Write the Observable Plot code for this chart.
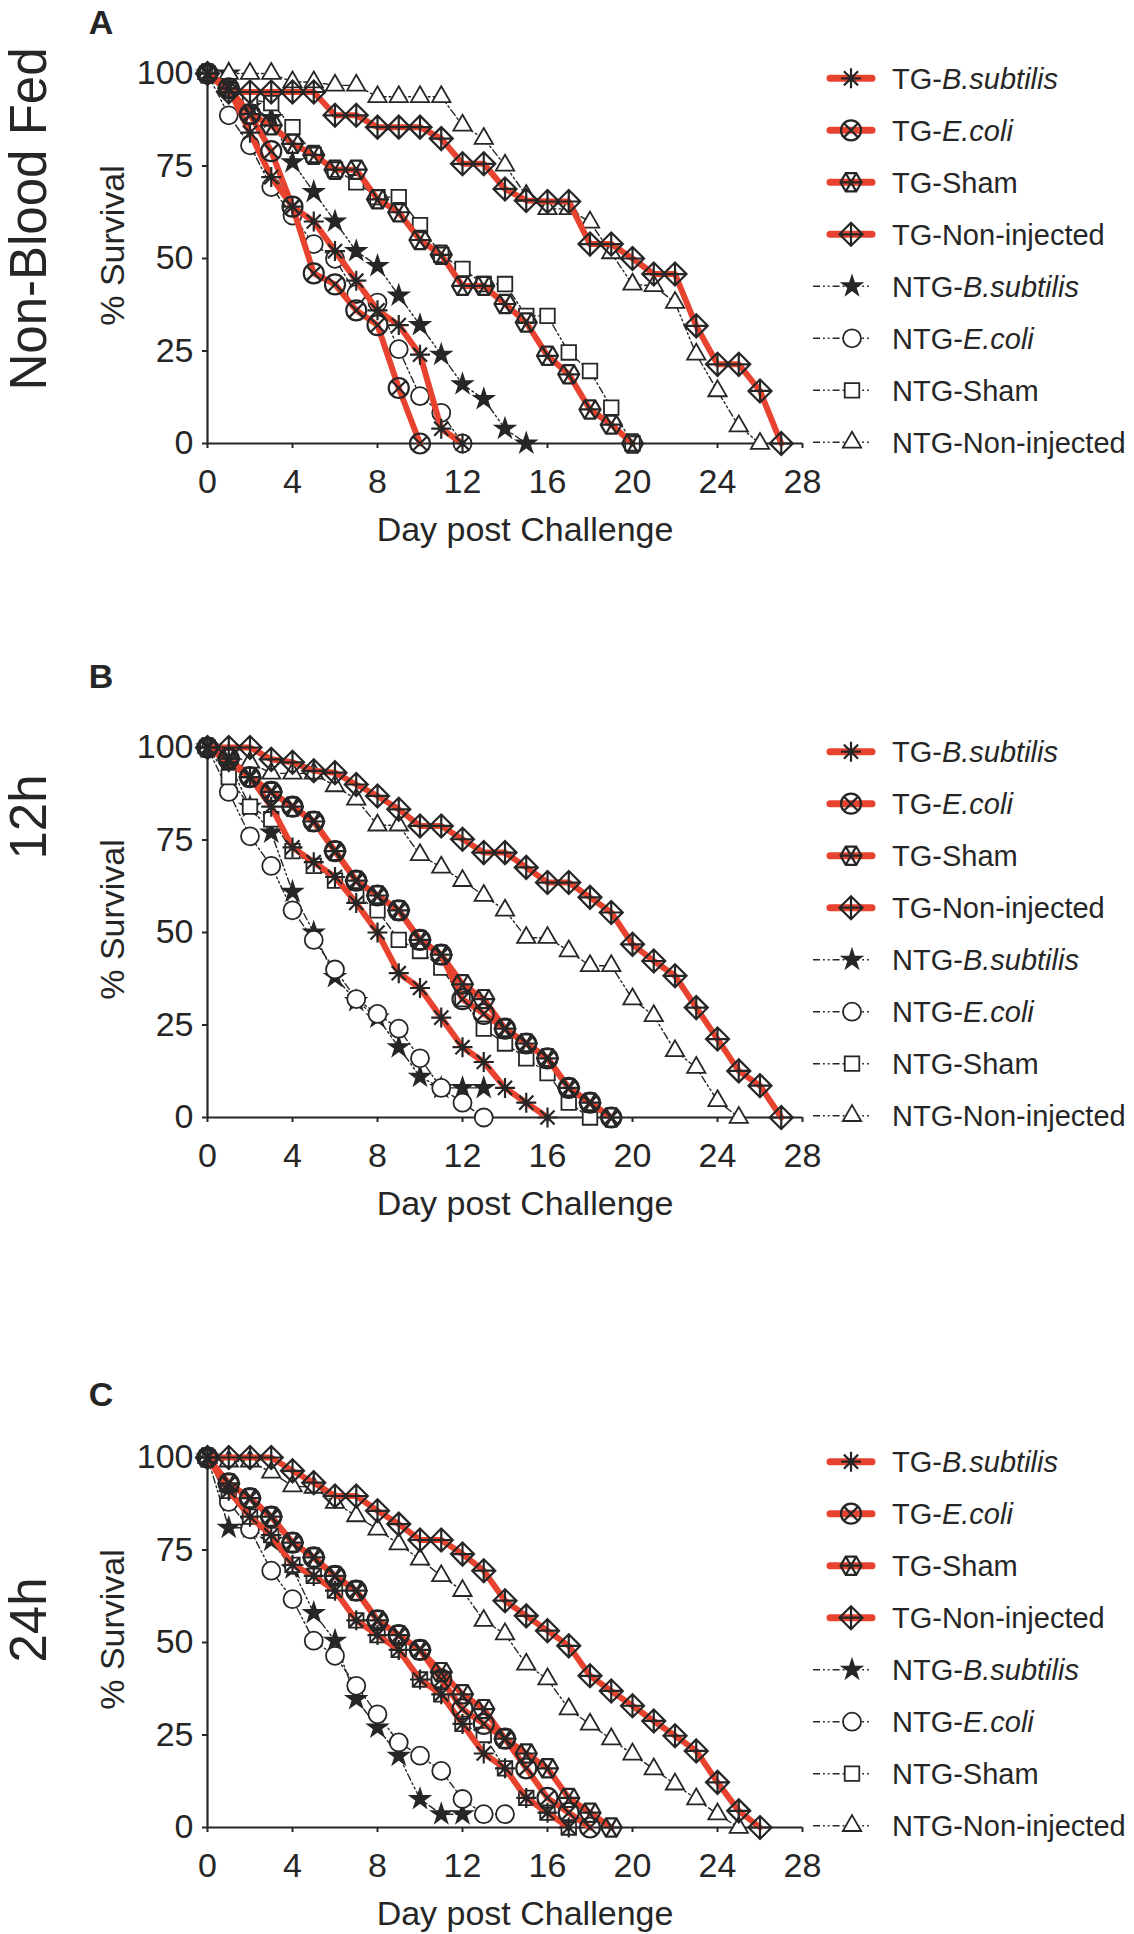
<!DOCTYPE html>
<html><head><meta charset="utf-8">
<script src="https://cdn.jsdelivr.net/npm/d3@7"></script>
<script src="https://cdn.jsdelivr.net/npm/@observablehq/plot@0.6"></script>
<style>
body{margin:0;background:#fff;}
#fig{position:relative;width:1134px;height:1934px;background:#fff;font-family:"Liberation Sans",Arial,sans-serif;}
.panel{position:absolute;left:0;}
#overlay{position:absolute;left:0;top:0;pointer-events:none;}
</style></head><body><div id="fig"></div>
<script>
// ---------- data (% survival, index = day post challenge) ----------
const tickDays = [0, 4, 8, 12, 16, 20, 24, 28];
const tickPct = [0, 25, 50, 75, 100];
const seriesLabelPrefix = ["TG-", "TG-", "TG-Sham", "TG-Non-injected", "NTG-", "NTG-", "NTG-Sham", "NTG-Non-injected"];
const seriesLabelItalic = ["B.subtilis", "E.coli", "", "", "B.subtilis", "E.coli", "", ""];
const panelLetters = ["A", "B", "C"];
const panelSideLabels = ["Non-Blood Fed", "12h", "24h"];

// Panel A: Non-Blood Fed
const A_TG_Bsub   = [100,96,84,72,64,60,52,44,36,32,24,4,0];
const A_TG_Ecoli  = [100,96,89,79,64,46,43,36,32,15,0];
const A_TG_Sham   = [100,96,89,86,81,78,74,74,66,62.5,55,51,42.6,42.6,37.7,32.7,23.7,18.7,9.2,5.1,0];
const A_TG_NonInj = [100,95,95,95,95,95,88.7,88.7,85.5,85.5,85.5,82.4,75.6,75.6,68.8,65.7,65.4,65.4,53.9,53.9,50,45.8,45.8,31.8,21.4,21.4,14.2,0];
const A_NTG_Bsub   = [100,100,91,88,76,68,60,52,48,40,32,24,16,12,4,0];
const A_NTG_Ecoli  = [100,88.7,80.6,69.3,61.6,53.9,49.9,40.4,38.1,25.5,12.8,8.3,0];
const A_NTG_Sham   = [100,96,93,92,85.5,78,74,70.6,66.6,66.6,59,51,47.2,43.1,43.1,34.5,34.5,24.6,19.6,9.7,0];
const A_NTG_NonInj = [100,100,100,100,97.7,97.7,96.8,96.8,93.7,93.7,93.7,93.7,86,82.4,75.2,67,63.4,63.4,59.8,51.5,43,42.6,38.1,24.1,14.2,4.7,0];

// Panel B: 12h
const B_TG_Bsub   = [100,96,92,84,73,69,65,58,50,39,35,27,19,15,8,4,0];
const B_TG_Ecoli  = [100,97,92,88,84,80,72,64,60,56,48,44,32,28,24,20,16,8,4,0];
const B_TG_Sham   = [100,97,92,88,84,80,72,64,60,56,48,44,36,32,24,20,16,8,4,0];
const B_TG_NonInj = [100,100,100,96.8,96,93.7,93.2,90,86.9,83.3,78.8,78.8,75.2,71.6,71.6,67.6,63.5,63.5,59.5,55.4,46.8,42.3,38.3,29.7,21.2,12.6,8.6,0];
const B_NTG_Bsub   = [100,96,84,77,61,50,38,31.5,27,19,11,8,8,8];
const B_NTG_Ecoli  = [100,88,76,68,56,48,40,32,28,24,16,8,4,0];
const B_NTG_Sham   = [100,92,84,80.6,72,68,64,60,56,48,45,40.5,32,24,20,16,12,4,0];
const B_NTG_NonInj = [100,98,96,93,93,93,89.6,86,79,79,71,67.6,64,60,56,48.6,48.6,45,41,41,32,27.5,18,13.5,4.5,0];

// Panel C: 24h
const C_TG_Bsub   = [100,91,84,79,71,68,64,56,52,48,40,36,28,20,16,8,4,0];
const C_TG_Ecoli  = [100,93,89,84,77,73,68,64,56,52,48,40,32,28,24,16,8,4,0];
const C_TG_Sham   = [100,93,89,84,77,73,68,64,56,52,48,42,36,32,24,20,16,8,4,0];
const C_TG_NonInj = [100,100,100,100,96.4,93.2,89.6,89.6,85.6,82,77.7,77.7,73.9,69.4,61.3,57.2,53.2,49.1,41,36.9,32.9,28.8,24.8,20.7,12.2,4.5,0];
const C_NTG_Bsub   = [100,81,81,77.5,70,58,50.5,34.7,27,19.4,7.7,3.6,3.6];
const C_NTG_Ecoli  = [100,88,80.6,69.4,61.7,50.5,46.4,38.3,30.6,23,19.4,15.3,7.7,3.6,3.6];
const C_NTG_Sham   = [100,91,84,79,71,68,64,56,52,48,40,36,28,25,16,8,4,0];
const C_NTG_NonInj = [100,99,99,96,92.3,91.9,87.8,84.2,80.6,76.6,72.5,68,64,55.9,52.3,44.1,40.1,32,27.9,23.9,19.8,15.8,11.7,7.7,3.6,0];

const panelSeries = [
  [A_TG_Bsub, A_TG_Ecoli, A_TG_Sham, A_TG_NonInj, A_NTG_Bsub, A_NTG_Ecoli, A_NTG_Sham, A_NTG_NonInj],
  [B_TG_Bsub, B_TG_Ecoli, B_TG_Sham, B_TG_NonInj, B_NTG_Bsub, B_NTG_Ecoli, B_NTG_Sham, B_NTG_NonInj],
  [C_TG_Bsub, C_TG_Ecoli, C_TG_Sham, C_TG_NonInj, C_NTG_Bsub, C_NTG_Ecoli, C_NTG_Sham, C_NTG_NonInj]
];

// ---------- layout / style ----------
const FONT = '"Liberation Sans", Arial, sans-serif';
const RED = "#e8432f";
const INK = "#262626";
const DASH = "7,3,1.8,3,1.8,3";
const plotTops = [73.3, 746.7, 1456.7];
const letterY = [22, 676, 1394];
const sideY = [219, 817, 1620];
const PLOT_H = 370, MT = 20, MB = 120, ML = 207, W = 810;

const rOf = size => Math.sqrt(size / Math.PI);
const symAsterisk8 = {draw(ctx, size) {
  const r = rOf(size);
  for (let k = 0; k < 4; k++) { const a = k * Math.PI / 4, c = Math.cos(a) * r, s = Math.sin(a) * r; ctx.moveTo(-c, -s); ctx.lineTo(c, s); }
}};
const symCircleX = {draw(ctx, size) {
  const r = rOf(size), d = r * Math.SQRT1_2;
  ctx.moveTo(r, 0); ctx.arc(0, 0, r, 0, 2 * Math.PI); ctx.closePath();
  ctx.moveTo(-d, -d); ctx.lineTo(d, d); ctx.moveTo(-d, d); ctx.lineTo(d, -d);
}};
const symHexStar = {draw(ctx, size) {
  const r = rOf(size);
  const p = d3.range(6).map(i => [r * Math.cos(i * Math.PI / 3), r * Math.sin(i * Math.PI / 3)]);
  ctx.moveTo(p[0][0], p[0][1]); for (let i = 1; i < 6; i++) ctx.lineTo(p[i][0], p[i][1]); ctx.closePath();
  for (let i = 0; i < 3; i++) { ctx.moveTo(p[i][0], p[i][1]); ctx.lineTo(p[i + 3][0], p[i + 3][1]); }
}};
const symDiamondPlus = {draw(ctx, size) {
  const r = rOf(size);
  ctx.moveTo(0, -r); ctx.lineTo(r, 0); ctx.lineTo(0, r); ctx.lineTo(-r, 0); ctx.closePath();
  ctx.moveTo(0, -r); ctx.lineTo(0, r); ctx.moveTo(-r, 0); ctx.lineTo(r, 0);
}};
const seriesStyle = [
  {tg: true, symbol: symAsterisk8, r: 10, fill: "none"},
  {tg: true, symbol: symCircleX, r: 10, fill: "none"},
  {tg: true, symbol: symHexStar, r: 10.5, fill: "none"},
  {tg: true, symbol: symDiamondPlus, r: 11.5, fill: "none"},
  {tg: false, symbol: "star", r: 6, fill: INK},
  {tg: false, symbol: "circle", r: 9, fill: "white"},
  {tg: false, symbol: "square", r: 8.2, fill: "white"},
  {tg: false, symbol: "triangle", r: 6.8, fill: "white"}
];
const d3Sym = s => typeof s === "string" ? ({star: d3.symbolStar, circle: d3.symbolCircle, square: d3.symbolSquare, triangle: d3.symbolTriangle})[s] : s;

const fig = document.getElementById("fig");

panelSeries.forEach((seriesArrs, pi) => {
  const rows = [];
  seriesArrs.forEach((arr, si) => arr.forEach((v, day) => rows.push({si, day, pct: v})));
  const marks = [];
  const ofS = si => rows.filter(d => d.si === si);
  [4, 5, 6, 7].forEach(si => {
    marks.push(Plot.line(ofS(si), {x: "day", y: "pct", stroke: INK, strokeWidth: 1.4, strokeDasharray: DASH}));
    const st = seriesStyle[si];
    marks.push(Plot.dot(ofS(si), {x: "day", y: "pct", symbol: st.symbol, r: st.r, fill: st.fill, stroke: INK, strokeWidth: 1.8}));
  });
  [0, 1, 2, 3].forEach(si => marks.push(Plot.line(ofS(si), {x: "day", y: "pct", stroke: RED, strokeWidth: 6, strokeLinejoin: "round", strokeLinecap: "round"})));
  [0, 1, 2, 3].forEach(si => {
    const st = seriesStyle[si];
    marks.push(Plot.dot(ofS(si), {x: "day", y: "pct", symbol: st.symbol, r: st.r, fill: st.fill, stroke: INK, strokeWidth: 2.2}));
  });
  const chart = Plot.plot({
    width: W, height: MT + PLOT_H + MB,
    marginLeft: ML, marginRight: W - 802, marginTop: MT, marginBottom: MB,
    style: {fontFamily: FONT, fontSize: "34px", color: INK, background: "transparent", overflow: "visible"},
    x: {domain: [0, 28]},
    y: {domain: [0, 100]},
    marks: [
      Plot.axisX({ticks: tickDays, tickSize: 5, tickPadding: 20, strokeWidth: 2, label: null, fontSize: 34}),
      Plot.axisY({ticks: tickPct, tickSize: 5, tickPadding: 9, strokeWidth: 2, label: null, fontSize: 34}),
      Plot.ruleX([0], {stroke: INK, strokeWidth: 2.2}),
      Plot.ruleY([0], {stroke: INK, strokeWidth: 2.2}),
      Plot.text(["% Survival"], {frameAnchor: "left", textAnchor: "middle", lineAnchor: "middle", dx: -94, dy: -13, rotate: -90, fontSize: 34, fill: INK}),
      Plot.text(["Day post Challenge"], {frameAnchor: "bottom", textAnchor: "middle", lineAnchor: "middle", dx: 20, dy: 87, fontSize: 34, fill: INK}),
      ...marks
    ]
  });
  const wrap = document.createElement("div");
  wrap.className = "panel";
  wrap.style.top = (plotTops[pi] - MT) + "px";
  wrap.appendChild(chart);
  fig.appendChild(wrap);
});

// ---------- overlay: panel letters, side labels, legends ----------
const svg = d3.select(fig).append("svg").attr("id", "overlay").attr("width", 1134).attr("height", 1934)
  .style("font-family", FONT);
panelLetters.forEach((L, pi) => {
  svg.append("text").attr("x", 101).attr("y", letterY[pi] + 12).attr("text-anchor", "middle")
    .attr("font-size", 34).attr("font-weight", "bold").attr("fill", INK).text(L);
  svg.append("text").attr("transform", `translate(46,${sideY[pi]}) rotate(-90)`).attr("text-anchor", "middle")
    .attr("font-size", 51).attr("fill", INK).text(panelSideLabels[pi]);
  const top = plotTops[pi];
  seriesStyle.forEach((st, si) => {
    const y = top + 5 + si * 52;
    const g = svg.append("g");
    if (st.tg) {
      g.append("line").attr("x1", 830).attr("x2", 872).attr("y1", y).attr("y2", y)
        .attr("stroke", RED).attr("stroke-width", 7).attr("stroke-linecap", "round");
      g.append("path").attr("transform", `translate(851,${y})`)
        .attr("d", d3.symbol().type(d3Sym(st.symbol)).size(Math.PI * st.r * st.r)())
        .attr("fill", "none").attr("stroke", INK).attr("stroke-width", 2.2);
    } else {
      g.append("line").attr("x1", 813).attr("x2", 870).attr("y1", y).attr("y2", y)
        .attr("stroke", INK).attr("stroke-width", 1.4).attr("stroke-dasharray", DASH);
      g.append("path").attr("transform", `translate(852,${y})`)
        .attr("d", d3.symbol().type(d3Sym(st.symbol)).size(Math.PI * st.r * st.r)())
        .attr("fill", st.fill).attr("stroke", INK).attr("stroke-width", 1.8);
    }
    const t = g.append("text").attr("x", 892).attr("y", y + 10.5).attr("font-size", 29).attr("fill", INK);
    t.append("tspan").text(seriesLabelPrefix[si]);
    if (seriesLabelItalic[si]) t.append("tspan").attr("font-style", "italic").text(seriesLabelItalic[si]);
  });
});
</script></body></html>
